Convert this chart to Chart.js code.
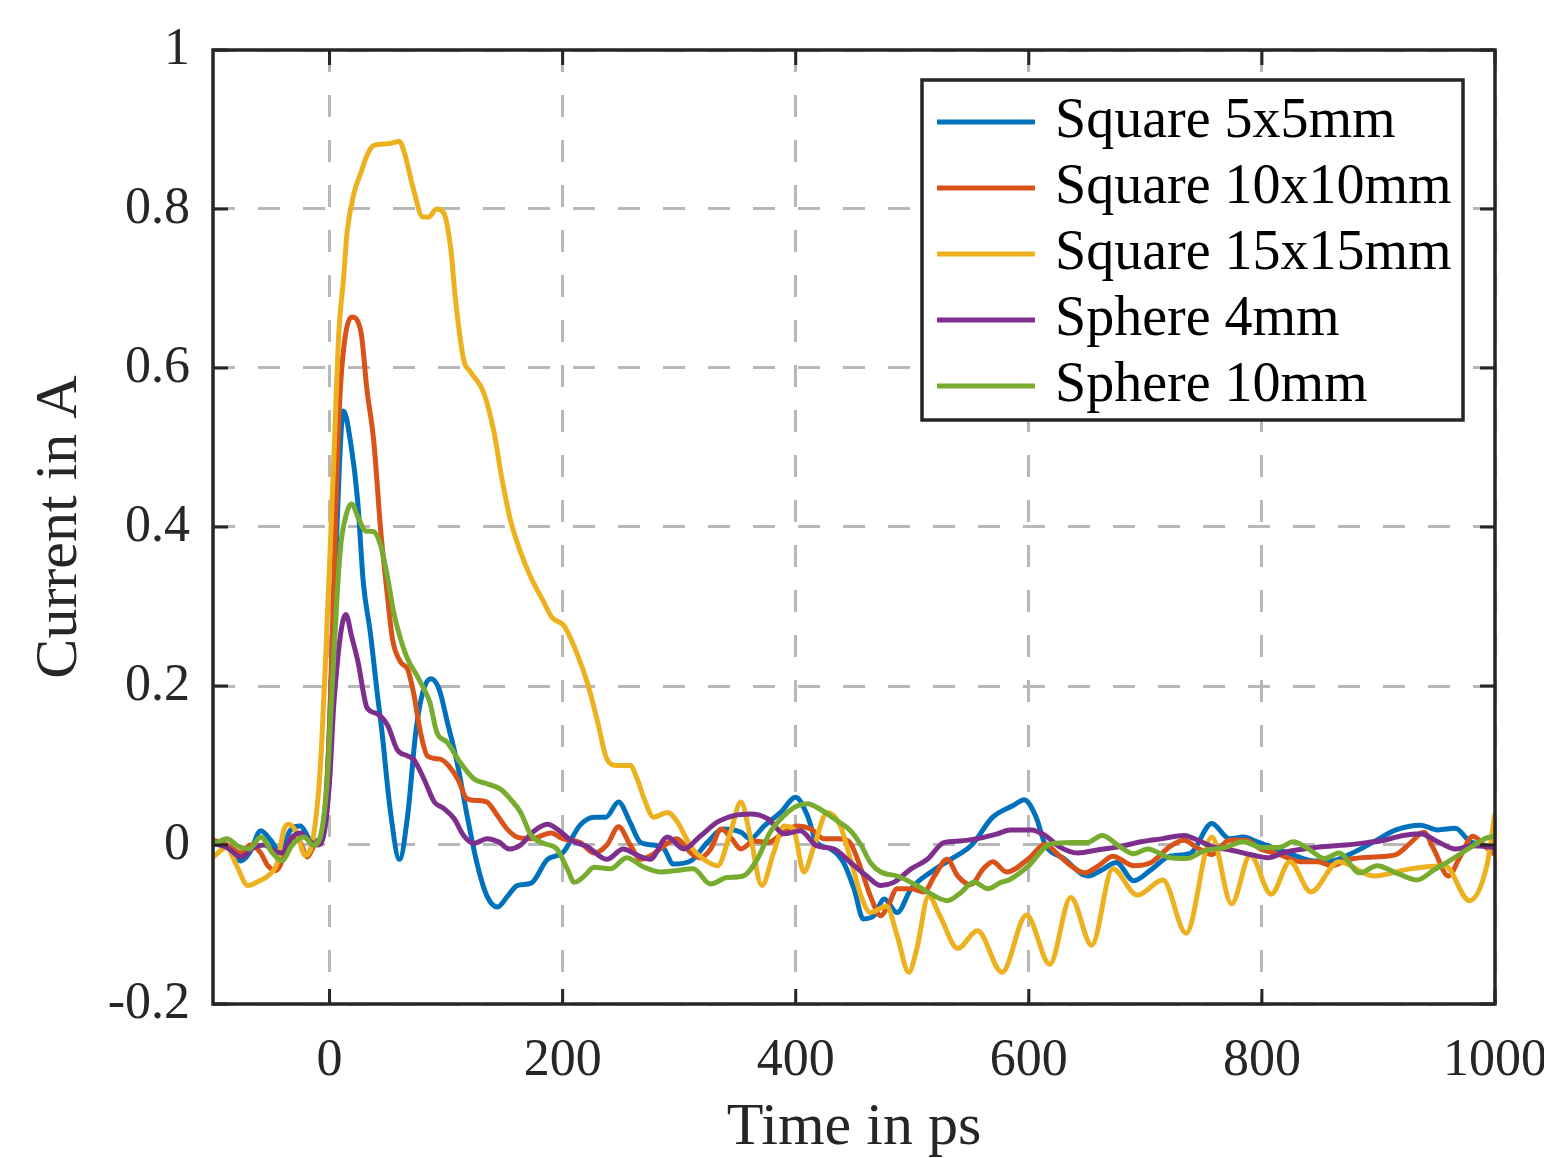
<!DOCTYPE html>
<html>
<head>
<meta charset="utf-8">
<script src="https://cdn.jsdelivr.net/npm/chart.js@4.4.1/dist/chart.umd.min.js"></script>
<style>
  html, body { margin: 0; padding: 0; background: #fff; }
</style>
</head>
<body>
<canvas id="chart" width="1544" height="1158"></canvas>
<script>
// tick values
const xTicks = [0, 200, 400, 600, 800, 1000];
const yTicks = [-0.2, 0, 0.2, 0.4, 0.6, 0.8, 1];

const labels = ["Square 5x5mm", "Square 10x10mm", "Square 15x15mm", "Sphere 4mm", "Sphere 10mm"];
const colors = ["#0072BD", "#D95319", "#EDB120", "#7E2F8E", "#77AC30"];

// Square 5x5mm (time in ps, current in A)
const sq5T = [-100, -88, -76, -68, -59, -50, -42, -34, -25, -16, -8, -4, 0, 5, 12, 18, 24, 29, 35, 41, 45, 52, 60, 67, 74, 80, 87, 94, 101, 110, 118, 127, 135, 144, 153, 161, 173, 187, 200, 215, 227, 237, 248, 258, 267, 278, 287, 295, 310, 324, 338, 353, 361, 373, 387, 400, 410, 418, 430, 441, 450, 458, 467, 476, 487, 499, 516, 533, 551, 569, 587, 596, 606, 614, 630, 651, 663, 675, 690, 705, 721, 739, 757, 772, 784, 796, 811, 826, 845, 860, 875, 896, 915, 936, 951, 966, 978, 990, 1000];
const sq5I = [0.005, 0.0, -0.02, -0.008, 0.018, 0.005, -0.01, 0.018, 0.024, 0.006, 0.005, 0.03, 0.15, 0.35, 0.546, 0.507, 0.435, 0.33, 0.267, 0.19, 0.142, 0.045, -0.018, 0.037, 0.142, 0.192, 0.209, 0.196, 0.155, 0.10, 0.037, -0.026, -0.064, -0.078, -0.064, -0.051, -0.048, -0.018, -0.01, 0.025, 0.035, 0.035, 0.054, 0.028, 0.003, 0.0, -0.005, -0.024, -0.02, 0.003, 0.02, 0.016, 0.008, 0.024, 0.041, 0.06, 0.037, 0.003, -0.005, -0.022, -0.055, -0.093, -0.089, -0.068, -0.085, -0.055, -0.034, -0.018, 0.0, 0.035, 0.05, 0.057, 0.036, 0.001, -0.017, -0.039, -0.031, -0.022, -0.045, -0.031, -0.014, -0.01, 0.027, 0.008, 0.01, 0.004, -0.004, -0.012, -0.02, -0.02, -0.012, 0.004, 0.019, 0.025, 0.019, 0.021, 0.005, 0.0, -0.004];

// Square 10x10mm
const sq10T = [-100, -88, -76, -68, -59, -53, -46, -39, -32, -26, -19, -13, -6, 0, 7, 10, 19, 27, 32, 38, 44, 50, 54, 61, 67, 72, 78, 84, 95, 102, 110, 118, 127, 135, 144, 153, 161, 173, 190, 200, 215, 227, 238, 248, 258, 267, 277, 287, 298, 310, 318, 327, 336, 345, 353, 364, 376, 390, 401, 413, 424, 436, 446, 456, 464, 473, 479, 487, 499, 510, 519, 530, 539, 550, 561, 569, 581, 600, 614, 625, 636, 648, 660, 672, 690, 705, 721, 733, 745, 757, 772, 786, 799, 815, 833, 848, 860, 875, 895, 915, 927, 939, 948, 960, 970, 981, 993, 1000];
const sq10I = [0.006, 0.0, -0.01, 0.0, -0.01, -0.026, -0.032, -0.015, 0.01, 0.006, -0.015, 0.0, 0.02, 0.15, 0.498, 0.59, 0.664, 0.645, 0.574, 0.507, 0.394, 0.309, 0.259, 0.23, 0.221, 0.192, 0.142, 0.112, 0.108, 0.10, 0.083, 0.058, 0.056, 0.054, 0.037, 0.019, 0.01, 0.008, 0.015, 0.008, 0.003, -0.01, 0.0, 0.023, 0.0, -0.018, -0.012, -0.001, 0.008, -0.01, -0.016, -0.005, 0.02, 0.008, -0.005, 0.005, 0.003, 0.016, 0.024, 0.02, 0.008, 0.008, 0.004, -0.03, -0.064, -0.089, -0.077, -0.055, -0.055, -0.059, -0.039, -0.018, -0.039, -0.05, -0.03, -0.021, -0.034, -0.017, 0.001, -0.012, -0.026, -0.035, -0.026, -0.014, -0.026, -0.022, -0.002, 0.006, -0.004, -0.012, 0.006, 0.006, -0.005, -0.012, -0.021, -0.021, -0.026, -0.018, -0.015, -0.012, 0.002, 0.016, -0.007, -0.039, -0.015, 0.011, -0.004, -0.012];

// Square 15x15mm
const sq15T = [-100, -88, -80, -70, -60, -53, -45, -39, -35, -28, -21, -15, -10, -7, -3, 4, 8, 12, 15, 21, 27, 32, 38, 50, 60, 64, 72, 80, 85, 92, 98, 104, 108, 115, 121, 132, 141, 148, 155, 164, 172, 184, 191, 201, 212, 221, 230, 238, 247, 258, 264, 270, 278, 290, 298, 310, 321, 333, 344, 353, 361, 371, 381, 390, 398, 407, 416, 427, 438, 447, 457, 464, 478, 487, 497, 504, 514, 524, 539, 556, 577, 598, 618, 636, 654, 672, 693, 715, 735, 757, 774, 790, 808, 824, 842, 866, 896, 927, 957, 978, 993, 1000];
const sq15I = [-0.015, -0.003, -0.025, -0.051, -0.045, -0.039, -0.023, 0.02, 0.026, 0.015, -0.013, 0.002, 0.058, 0.12, 0.246, 0.498, 0.645, 0.712, 0.77, 0.82, 0.846, 0.867, 0.88, 0.882, 0.885, 0.872, 0.825, 0.79, 0.79, 0.80, 0.795, 0.75, 0.687, 0.611, 0.595, 0.57, 0.52, 0.46, 0.41, 0.368, 0.339, 0.305, 0.286, 0.276, 0.242, 0.205, 0.155, 0.108, 0.10, 0.10, 0.083, 0.058, 0.035, 0.041, 0.03, -0.002, -0.018, -0.026, 0.016, 0.054, 0.011, -0.051, -0.01, 0.024, 0.02, -0.034, 0.0, 0.041, 0.025, -0.018, -0.068, -0.085, -0.077, -0.114, -0.16, -0.13, -0.064, -0.09, -0.13, -0.108, -0.16, -0.088, -0.15, -0.066, -0.126, -0.03, -0.063, -0.044, -0.111, 0.01, -0.074, -0.013, -0.062, -0.021, -0.059, -0.021, -0.039, -0.03, -0.026, -0.07, -0.026, 0.04];

// Sphere 4mm
const sp4T = [-100, -88, -76, -65, -56, -48, -41, -32, -25, -18, -10, -4, 0, 4, 14, 19, 25, 29, 32, 41, 50, 58, 67, 72, 81, 90, 98, 107, 115, 124, 135, 145, 154, 164, 175, 187, 197, 207, 221, 238, 252, 263, 275, 290, 304, 318, 333, 347, 361, 376, 390, 404, 418, 433, 447, 461, 473, 484, 499, 513, 527, 541, 556, 573, 584, 602, 614, 626, 642, 660, 678, 696, 715, 733, 745, 757, 772, 790, 805, 820, 836, 854, 872, 890, 905, 921, 936, 951, 966, 981, 1000];
const sp4I = [0.002, -0.003, -0.015, -0.003, 0.0, -0.007, -0.01, 0.01, 0.015, 0.006, 0.0, 0.02, 0.08, 0.184, 0.29, 0.262, 0.226, 0.192, 0.173, 0.165, 0.15, 0.12, 0.112, 0.108, 0.083, 0.054, 0.046, 0.033, 0.012, 0.002, 0.008, 0.004, -0.005, 0.0, 0.017, 0.026, 0.018, 0.006, -0.002, -0.018, -0.005, -0.012, -0.018, 0.01, -0.005, 0.011, 0.029, 0.037, 0.039, 0.033, 0.014, 0.018, -0.001, -0.005, -0.022, -0.039, -0.051, -0.047, -0.03, -0.018, 0.003, 0.005, 0.008, 0.014, 0.019, 0.019, 0.012, -0.002, -0.01, -0.006, -0.002, 0.004, 0.008, 0.012, 0.006, -0.002, -0.006, -0.012, -0.016, -0.009, -0.005, -0.002, 0.0, 0.003, 0.006, 0.012, 0.014, 0.004, -0.005, -0.001, -0.003];

// Sphere 10mm
const sp10T = [-100, -88, -78, -69, -59, -49, -41, -32, -22, -14, -8, -2, 2, 9, 15, 19, 25, 31, 38, 44, 50, 55, 61, 67, 75, 81, 86, 92, 101, 112, 124, 135, 147, 155, 164, 173, 184, 195, 204, 210, 218, 227, 241, 255, 270, 284, 298, 312, 327, 341, 355, 367, 378, 390, 401, 410, 421, 433, 447, 456, 464, 473, 487, 504, 519, 530, 540, 553, 565, 576, 583, 600, 618, 636, 650, 663, 678, 690, 702, 721, 735, 751, 769, 784, 800, 815, 827, 840, 854, 866, 884, 899, 915, 933, 948, 963, 978, 993, 1000];
const sp10I = [0.0, 0.008, -0.002, -0.005, 0.01, -0.01, -0.02, 0.0, 0.01, 0.0, 0.01, 0.08, 0.192, 0.368, 0.419, 0.429, 0.41, 0.395, 0.394, 0.376, 0.335, 0.293, 0.259, 0.234, 0.213, 0.196, 0.18, 0.142, 0.129, 0.104, 0.083, 0.077, 0.07, 0.058, 0.041, 0.012, 0.002, -0.005, -0.03, -0.047, -0.04, -0.028, -0.03, -0.016, -0.028, -0.034, -0.032, -0.03, -0.049, -0.041, -0.039, -0.018, 0.016, 0.037, 0.049, 0.052, 0.045, 0.033, 0.018, 0.0, -0.022, -0.034, -0.039, -0.051, -0.064, -0.07, -0.062, -0.047, -0.055, -0.047, -0.044, -0.026, 0.001, 0.003, 0.003, 0.012, -0.002, -0.011, -0.005, -0.016, -0.017, -0.007, -0.003, 0.004, -0.003, -0.003, 0.004, -0.005, -0.017, -0.01, -0.035, -0.026, -0.035, -0.044, -0.031, -0.018, -0.004, 0.009, 0.011];

const seriesT = [sq5T, sq10T, sq15T, sp4T, sp10T];
const seriesI = [sq5I, sq10I, sq15I, sp4I, sp10I];

const toPoints = (t, v) => t.map((x, k) => ({ x: x, y: v[k] }));

const FONT = '"Liberation Serif", "Times New Roman", serif';

// box round the axes with inward ticks, like MATLAB
const axesBox = {
  id: "axesBox",
  afterDatasetsDraw(chart) {
    const { ctx, chartArea: a, scales } = chart;
    ctx.save();
    ctx.strokeStyle = "#262626";
    ctx.lineWidth = 3;
    ctx.beginPath();
    scales.x.ticks.forEach((t) => {
      const px = scales.x.getPixelForValue(t.value);
      ctx.moveTo(px, a.bottom); ctx.lineTo(px, a.bottom - 15);
      ctx.moveTo(px, a.top); ctx.lineTo(px, a.top + 15);
    });
    scales.y.ticks.forEach((t) => {
      const py = scales.y.getPixelForValue(t.value);
      ctx.moveTo(a.left, py); ctx.lineTo(a.left + 15, py);
      ctx.moveTo(a.right, py); ctx.lineTo(a.right - 15, py);
    });
    ctx.stroke();
    ctx.lineWidth = 3.5;
    ctx.strokeRect(a.left, a.top, a.right - a.left, a.bottom - a.top);
    ctx.restore();
  },
};

// legend box in the upper right corner
const boxLegend = {
  id: "boxLegend",
  afterDraw(chart) {
    const ctx = chart.ctx;
    ctx.save();
    ctx.fillStyle = "#fff";
    ctx.fillRect(922, 80, 541, 340);
    ctx.strokeStyle = "#262626";
    ctx.lineWidth = 3.5;
    ctx.strokeRect(922, 80, 541, 340);
    ctx.font = "56px " + FONT;
    ctx.textBaseline = "middle";
    ctx.textAlign = "left";
    chart.data.datasets.forEach((ds, k) => {
      const y = 122 + k * 66;
      ctx.strokeStyle = ds.borderColor;
      ctx.lineWidth = 5;
      ctx.beginPath();
      ctx.moveTo(937, y);
      ctx.lineTo(1035, y);
      ctx.stroke();
      ctx.fillStyle = "#000";
      ctx.fillText(ds.label, 1055, y);
    });
    ctx.restore();
  },
};

new Chart(document.getElementById("chart"), {
  type: "line",
  data: {
    datasets: labels.map((name, k) => ({
      label: name,
      data: toPoints(seriesT[k], seriesI[k]),
      borderColor: colors[k],
      backgroundColor: colors[k],
      borderWidth: 5,
      pointRadius: 0,
      fill: false,
      cubicInterpolationMode: "monotone",
      order: labels.length - k,
    })),
  },
  options: {
    responsive: false,
    animation: false,
    events: [],
    layout: { padding: { top: 50, right: 49, left: 0, bottom: 0 } },
    plugins: {
      legend: { display: false },
      tooltip: { enabled: false },
    },
    scales: {
      x: {
        type: "linear",
        min: -100,
        max: 1000,
        afterBuildTicks: (s) => { s.ticks = xTicks.map((v) => ({ value: v })); },
        afterFit: (s) => { s.height = 154; s.paddingLeft = 0; s.paddingRight = 0; },
        ticks: {
          autoSkip: false,
          maxRotation: 0,
          padding: 26,
          color: "#262626",
          font: { family: FONT, size: 52 },
          callback: (v) => String(v),
        },
        grid: { color: "#b8b8b8", lineWidth: 3, drawTicks: false },
        border: { display: false, dash: [22, 23] },
        title: {
          display: true,
          text: "Time in ps",
          color: "#262626",
          font: { family: FONT, size: 60 },
          padding: { top: 0, bottom: -6 },
        },
      },
      y: {
        type: "linear",
        min: -0.2,
        max: 1,
        afterBuildTicks: (s) => { s.ticks = yTicks.map((v) => ({ value: v })); },
        afterFit: (s) => { s.width = 213; s.paddingTop = 0; s.paddingBottom = 0; },
        ticks: {
          padding: 23,
          color: "#262626",
          font: { family: FONT, size: 52 },
          callback: (v) => String(Math.round(v * 10) / 10),
        },
        grid: { color: "#b8b8b8", lineWidth: 3, drawTicks: false },
        border: { display: false, dash: [22, 23] },
        title: {
          display: true,
          text: "Current in A",
          color: "#262626",
          font: { family: FONT, size: 60 },
          padding: { top: 24, bottom: 0 },
        },
      },
    },
  },
  plugins: [axesBox, boxLegend],
});
</script>
</body>
</html>
